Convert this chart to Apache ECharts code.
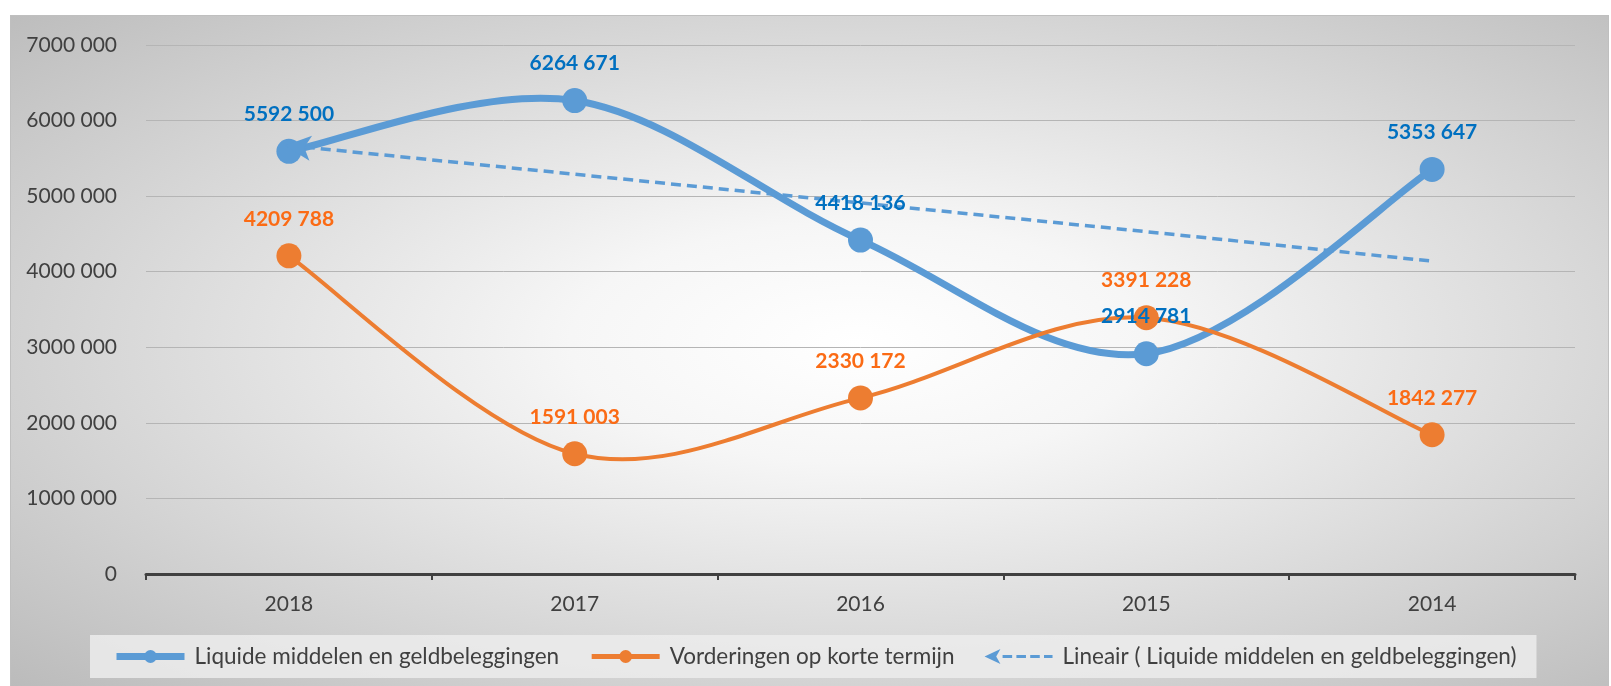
<!DOCTYPE html>
<html>
<head>
<meta charset="utf-8">
<script src="https://cdn.jsdelivr.net/npm/echarts@6/dist/echarts.min.js"></script>
<style>
  html, body { margin: 0; padding: 0; background: #fff; }
  #bg {
    position: absolute; left: 10px; top: 15px; width: 1597px; height: 680px;
    border: 1px solid #bfbfbf;
    background: radial-gradient(ellipse farthest-corner at 53% 48%, #ffffff 0%, #f6f6f6 24%, #bababa 100%);
  }
  #chart { position: absolute; left: 0; top: 0; width: 1611px; height: 686px; }
</style>
</head>
<body>
<div id="bg"></div>
<div id="chart"></div>
<script>
// years as they appear on the axis
var years = ['2018', '2017', '2016', '2015', '2014']
// Liquide middelen en geldbeleggingen
var liquide = [5592500, 6264671, 4418136, 2914781, 5353647]
// Vorderingen op korte termijn
var vorderingen = [4209788, 1591003, 2330172, 3391228, 1842277]
// linear trend of the blue series
var trend = [5670000, 5290000, 4910000, 4530000, 4140000]
var yTicks = [0, 1000000, 2000000, 3000000, 4000000, 5000000, 6000000, 7000000]

var names = [
  'Liquide middelen en geldbeleggingen',
  'Vorderingen op korte termijn',
  'Lineair ( Liquide middelen en geldbeleggingen)'
]
var blue = '#5b9bd5'
var orange = '#ed7d31'

function fmt(v) {
  if (v < 1000) return '' + v
  var k = Math.floor(v / 1000), r = v % 1000
  return k + ' ' + String(r).padStart(3, '0')
}

// excel-like smoothed line: catmull-rom segments between the points
function smoothCurve(values, color, width) {
  return {
    type: 'custom',
    silent: true,
    data: values.map(function (v, i) { return [i, v] }),
    renderItem: function (params, api) {
      var i = params.dataIndex
      if (i >= values.length - 1) return null
      var pts = values.map(function (v, k) { return api.coord([k, v]) })
      var p0 = pts[Math.max(i - 1, 0)], p1 = pts[i], p2 = pts[i + 1], p3 = pts[Math.min(i + 2, pts.length - 1)]
      return {
        type: 'bezierCurve',
        shape: {
          x1: p1[0], y1: p1[1], x2: p2[0], y2: p2[1],
          cpx1: p1[0] + (p2[0] - p0[0]) / 6, cpy1: p1[1] + (p2[1] - p0[1]) / 6,
          cpx2: p2[0] - (p3[0] - p1[0]) / 6, cpy2: p2[1] - (p3[1] - p1[1]) / 6
        },
        style: { stroke: color, lineWidth: width, fill: null, lineCap: 'round' }
      }
    }
  }
}

function pointSeries(name, values, color, labelColor) {
  return {
    name: name,
    type: 'line',
    data: values,
    symbol: 'circle',
    symbolSize: 25,
    itemStyle: { color: color },
    lineStyle: { color: color, opacity: 0 },
    label: {
      show: true, position: 'top', distance: 14,
      color: labelColor, fontFamily: font, fontWeight: 'bold', fontSize: 21,
      formatter: function (p) { return fmt(p.value) }
    }
  }
}

var font = 'Lato'
var chart = echarts.init(document.getElementById('chart'))

var trendData = trend.map(function (v, i) {
  if (i === 0) {
    return { value: v, symbol: 'arrow', symbolSize: [19, 26], symbolRotate: 84, symbolOffset: [-4, 0] }
  }
  return { value: v, symbol: 'none' }
})

// arrow + dashes, like the excel legend key
var trendIcon = 'path://M0,7 L15,0 L11,7 L15,14 Z M17,5.5 h9 v3 h-9 Z M30,5.5 h9 v3 h-9 Z M43,5.5 h9 v3 h-9 Z M56,5.5 h8 v3 h-8 Z'

chart.setOption({
  backgroundColor: 'transparent',
  animation: false,
  textStyle: { fontFamily: font },
  grid: { left: 146, right: 36, top: 45, bottom: 112 },
  legend: {
    left: 90, top: 635,
    padding: [10, 20, 10, 23],
    backgroundColor: 'rgba(236,236,236,0.85)',
    itemWidth: 68, itemHeight: 16, itemGap: 30,
    textStyle: { fontFamily: font, fontSize: 22.5, color: '#404040', padding: [0, 0, 0, 5] },
    data: [
      { name: names[0], lineStyle: { width: 7, color: blue, opacity: 1 } },
      { name: names[1], lineStyle: { width: 5, color: orange, opacity: 1 } },
      { name: names[2], icon: trendIcon, itemStyle: { color: blue } }
    ]
  },
  xAxis: {
    type: 'category',
    data: years,
    boundaryGap: true,
    axisLine: { lineStyle: { color: '#404040', width: 3 } },
    axisTick: { show: true, length: 6, lineStyle: { color: '#404040', width: 2 } },
    axisLabel: { fontFamily: font, fontSize: 21, color: '#404040', margin: 20 }
  },
  yAxis: {
    type: 'value',
    min: yTicks[0], max: yTicks[yTicks.length - 1], interval: 1000000,
    axisLine: { show: false },
    axisTick: { show: false },
    splitLine: { lineStyle: { color: '#b5b5b5', width: 1 } },
    axisLabel: { fontFamily: font, fontSize: 21, color: '#404040', margin: 29, formatter: fmt }
  },
  series: [
    smoothCurve(liquide, blue, 7),
    pointSeries(names[0], liquide, blue, '#0070c0'),
    smoothCurve(vorderingen, orange, 4),
    pointSeries(names[1], vorderingen, orange, '#fb6b15'),
    {
      name: names[2],
      type: 'line',
      data: trendData,
      itemStyle: { color: blue },
      lineStyle: { color: blue, width: 3.5, type: [10, 6] },
      label: { show: false }
    }
  ]
})
</script>
</body>
</html>
